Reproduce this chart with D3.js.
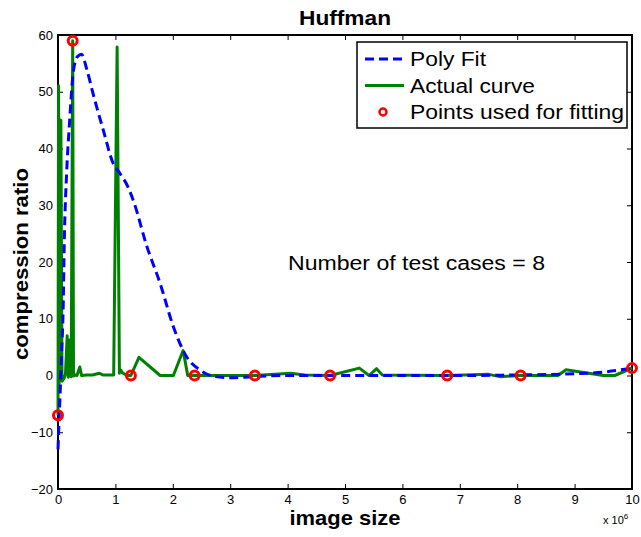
<!DOCTYPE html>
<html>
<head>
<meta charset="utf-8">
<script src="https://cdn.jsdelivr.net/npm/d3@7"></script>
<style>
  body { margin: 0; background: #fff; }
  text { font-family: "Liberation Sans", Arial, Helvetica, sans-serif; fill: #000; }
</style>
</head>
<body>
<div id="chart"></div>
<script>
// DATA (x in units of 10^6)
var actualX = [0, 0.01, 0.02, 0.05, 0.07, 0.1, 0.13, 0.16, 0.18, 0.21, 0.23, 0.256, 0.27, 0.3, 0.33, 0.38, 0.41,
    0.5, 0.6, 0.72, 0.78, 0.97, 1.03, 1.07, 1.09, 1.12, 1.2, 1.27, 1.41, 1.78, 2.01, 2.18, 2.26, 2.38,
    3.43, 4.05, 4.3, 4.74, 5.25, 5.42, 5.55, 5.65, 6.78, 7.5, 7.7, 8.06, 8.71, 8.85, 9.5, 9.7, 10];
var actualY = [-7, 51, -1.5, 45, -1, -0.6, 0.2, 7, -0.3, 6.3, -0.2, 59, -0.1, 0.1, 0, 1.5, 0,
    0.1, 0.1, 0.4, 0.1, 0.1, 57.9, 0.4, 1, 0.5, 0, 0, 3.2, 0, 0, 4.4, 0, 0,
    0, 0.4, 0.1, 0, 1.3, 0, 1.2, 0.1, 0, 0.2, -0.2, 0, 0, 1, 0, 0, 1.3];

var fitX = [0, 0.02, 0.035, 0.06, 0.09, 0.11, 0.15, 0.2, 0.27, 0.34, 0.41, 0.5, 0.61, 0.79, 0.96, 1.08,
    1.22, 1.31, 1.55, 1.78, 2.01, 2.24, 2.47, 2.74, 3.0, 3.4, 4, 5, 6, 7, 8, 9, 9.5, 10];
var fitY = [-13, -7.5, -3.7, 3.5, 12, 23.9, 35.6, 44.4, 53.8, 56.2, 56.6, 54, 49.7, 43.2, 37.4, 35.6,
    33.2, 30.9, 22.7, 16.2, 8.6, 3.3, 1.0, -0.2, -0.4, -0.2, 0, 0, 0, 0, 0.1, 0.3, 0.6, 1.3];

var pointsX = [0, 0.256, 1.27, 2.38, 3.43, 4.74, 6.78, 8.06, 10];
var pointsY = [-7, 59, 0, 0, 0, 0, 0, 0, 1.3];

var xTicks = [0, 1, 2, 3, 4, 5, 6, 7, 8, 9, 10];
var yTicks = [-20, -10, 0, 10, 20, 30, 40, 50, 60];
var legendLabels = ["Poly Fit", "Actual curve", "Points used for fitting"];
// widths of the legend texts as they appear in the reference
var legendWidths = [76, 125, 214];

// SIZE
var svgWidth = 641, svgHeight = 537;
var plotLeft = 58, plotRight = 632, plotTop = 35, plotBottom = 489;

var svg = d3.select("#chart").append("svg")
    .attr("width", svgWidth)
    .attr("height", svgHeight);

var x = d3.scaleLinear().domain([0, 10]).range([plotLeft, plotRight]);
var y = d3.scaleLinear().domain([-20, 60]).range([plotBottom, plotTop]);

// axes (ticks inward, on all four sides like matlab)
var tickFmt = d => d < 0 ? "\u2212" + Math.abs(d) : String(d);
svg.append("g")
    .attr("transform", `translate(0, ${plotBottom})`)
    .call(d3.axisBottom(x).tickValues(xTicks).tickSize(-5).tickPadding(6).tickFormat(tickFmt));
svg.append("g")
    .attr("transform", `translate(0, ${plotTop})`)
    .call(d3.axisTop(x).tickValues(xTicks).tickSize(-5).tickFormat(""));
svg.append("g")
    .attr("transform", `translate(${plotLeft}, 0)`)
    .call(d3.axisLeft(y).tickValues(yTicks).tickSize(-5).tickPadding(5).tickFormat(tickFmt));
svg.append("g")
    .attr("transform", `translate(${plotRight}, 0)`)
    .call(d3.axisRight(y).tickValues(yTicks).tickSize(-5).tickFormat(""));

svg.selectAll(".domain").remove();
svg.selectAll(".tick line").attr("stroke", "#000").attr("stroke-width", 1);
svg.selectAll(".tick text").attr("font-size", 13).attr("font-family", "Liberation Sans, Arial, sans-serif");

// box
svg.append("rect")
    .attr("x", plotLeft).attr("y", plotTop)
    .attr("width", plotRight - plotLeft).attr("height", plotBottom - plotTop)
    .attr("fill", "none").attr("stroke", "#000").attr("stroke-width", 2);

// curves
var fitLine = d3.line().x(i => x(fitX[i])).y(i => y(fitY[i])).curve(d3.curveMonotoneX);
var actLine = d3.line().x(i => x(actualX[i])).y(i => y(actualY[i]));

svg.append("path")
    .attr("d", actLine(d3.range(actualX.length)))
    .attr("fill", "none").attr("stroke", "#008000").attr("stroke-width", 3)
    .attr("stroke-linejoin", "round");

svg.append("path")
    .attr("d", fitLine(d3.range(fitX.length)))
    .attr("fill", "none").attr("stroke", "#0000ff").attr("stroke-width", 3)
    .attr("stroke-dasharray", "9,5");

svg.selectAll("circle.fitpt")
    .data(d3.range(pointsX.length))
    .enter().append("circle")
    .attr("class", "fitpt")
    .attr("cx", i => x(pointsX[i]))
    .attr("cy", i => y(pointsY[i]))
    .attr("r", 4.5)
    .attr("fill", "none").attr("stroke", "#ff0000").attr("stroke-width", 3);

// title and labels
svg.append("text")
    .attr("x", 345).attr("y", 25)
    .attr("text-anchor", "middle")
    .attr("font-size", 21).attr("font-weight", "bold")
    .attr("textLength", 92).attr("lengthAdjust", "spacingAndGlyphs")
    .text("Huffman");

svg.append("text")
    .attr("x", 345).attr("y", 525)
    .attr("text-anchor", "middle")
    .attr("font-size", 21).attr("font-weight", "bold")
    .attr("textLength", 111).attr("lengthAdjust", "spacingAndGlyphs")
    .text("image size");

svg.append("text")
    .attr("transform", "translate(28, 264) rotate(-90)")
    .attr("text-anchor", "middle")
    .attr("font-size", 21).attr("font-weight", "bold")
    .attr("textLength", 192).attr("lengthAdjust", "spacingAndGlyphs")
    .text("compression ratio");

var mult = svg.append("text")
    .attr("x", 603).attr("y", 524)
    .attr("font-size", 11);
mult.append("tspan").text("x 10");
mult.append("tspan").attr("dy", -5).attr("font-size", 8).text("6");

svg.append("text")
    .attr("x", 288).attr("y", 269.5)
    .attr("font-size", 20)
    .attr("textLength", 257).attr("lengthAdjust", "spacingAndGlyphs")
    .text("Number of test cases = 8");

// legend
var legend = svg.append("g");
legend.append("rect")
    .attr("x", 357).attr("y", 42)
    .attr("width", 270).attr("height", 86)
    .attr("fill", "#fff").attr("stroke", "#000").attr("stroke-width", 1.5);

var rowY = [59, 85.5, 112];
legend.append("line")
    .attr("x1", 365).attr("x2", 404).attr("y1", rowY[0]).attr("y2", rowY[0])
    .attr("stroke", "#0000ff").attr("stroke-width", 3).attr("stroke-dasharray", "9,5");
legend.append("line")
    .attr("x1", 365).attr("x2", 404).attr("y1", rowY[1]).attr("y2", rowY[1])
    .attr("stroke", "#008000").attr("stroke-width", 3);
legend.append("circle")
    .attr("cx", 383).attr("cy", rowY[2]).attr("r", 3.5)
    .attr("fill", "none").attr("stroke", "#ff0000").attr("stroke-width", 2.5);

legend.selectAll("text.leg")
    .data(legendLabels)
    .enter().append("text")
    .attr("class", "leg")
    .attr("x", 410)
    .attr("y", (d, i) => rowY[i] + 7)
    .attr("font-size", 20)
    .attr("textLength", (d, i) => legendWidths[i]).attr("lengthAdjust", "spacingAndGlyphs")
    .text(d => d);
</script>
</body>
</html>
